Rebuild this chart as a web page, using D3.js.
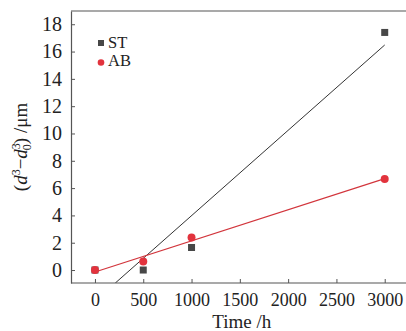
<!DOCTYPE html>
<html>
<head>
<meta charset="utf-8">
<script src="https://cdn.jsdelivr.net/npm/d3@7/dist/d3.min.js"></script>
<style>
  html, body { margin: 0; padding: 0; background: #fff; }
  svg { display: block; font-family: "Liberation Serif", "DejaVu Serif", serif; }
</style>
</head>
<body>
<svg id="chart" width="406" height="331"></svg>
<script>
// time (h)
var times = [0, 500, 1000, 3000];
// (d^3 - d0^3) /um
var stValues = [0, 0, 1.65, 17.4];
var abValues = [0, 0.62, 2.38, 6.67];
var xTicks = [0, 500, 1000, 1500, 2000, 2500, 3000];
var yTicks = [0, 2, 4, 6, 8, 10, 12, 14, 16, 18];

var width = 406, height = 331;
var margin = {left: 71, top: 11, right: 0, bottom: 48};

var svg = d3.select('#chart');

var x = d3.scaleLinear()
    .domain([-248, 3210])
    .range([margin.left, 405]);
var y = d3.scaleLinear()
    .domain([-0.95, 18.97])
    .range([height - margin.bottom, margin.top]);

// least squares fit
function fit(xs, ys) {
  var mx = d3.mean(xs), my = d3.mean(ys);
  var sxy = d3.sum(xs, (v, i) => (v - mx) * (ys[i] - my));
  var sxx = d3.sum(xs, v => (v - mx) * (v - mx));
  var b = sxy / sxx;
  return {b: b, a: my - b * mx};
}

var black = '#474747', red = '#e2333d';

// frame
svg.append('line')
   .attr('x1', margin.left).attr('x2', 406)
   .attr('y1', y.range()[1]).attr('y2', y.range()[1])
   .attr('stroke', '#555').attr('stroke-width', 1.2);

var xAxis = svg.append('g')
   .attr('transform', `translate(0,${y.range()[0]})`)
   .call(d3.axisBottom(x).tickValues(xTicks).tickFormat(d3.format('d'))
         .tickSizeInner(-4).tickSizeOuter(0).tickPadding(10));
var yAxis = svg.append('g')
   .attr('transform', `translate(${margin.left},0)`)
   .call(d3.axisLeft(y).tickValues(yTicks).tickFormat(d3.format('d'))
         .tickSizeInner(-4).tickSizeOuter(0).tickPadding(9));

[xAxis, yAxis].forEach(g => {
  g.select('.domain').attr('stroke', '#555').attr('stroke-width', 1.2);
  g.selectAll('.tick line').attr('stroke', '#555').attr('stroke-width', 1);
  g.selectAll('.tick text')
   .attr('fill', '#222')
   .attr('font-family', '"Liberation Serif", serif');
});
xAxis.select('.domain').attr('d', `M${margin.left},0H406`);
xAxis.selectAll('.tick text').attr('font-size', 18);
yAxis.selectAll('.tick text').attr('font-size', 20);

// fit lines
svg.append('clipPath').attr('id', 'plot')
   .append('rect')
   .attr('x', margin.left).attr('y', margin.top)
   .attr('width', 406 - margin.left).attr('height', y.range()[0] - margin.top);

var st = fit(times, stValues);
var stStart = (y.domain()[0] - st.a) / st.b;
svg.append('line')
   .attr('clip-path', 'url(#plot)')
   .attr('x1', x(stStart)).attr('y1', y(st.a + st.b * stStart))
   .attr('x2', x(3000)).attr('y2', y(st.a + st.b * 3000))
   .attr('stroke', '#333').attr('stroke-width', 1);

var ab = fit(times, abValues);
svg.append('line')
   .attr('x1', x(0)).attr('y1', y(ab.a))
   .attr('x2', x(3000)).attr('y2', y(ab.a + ab.b * 3000))
   .attr('stroke', '#d2353c').attr('stroke-width', 1.2);

// points
svg.append('g').selectAll('rect')
   .data(times)
   .join('rect')
   .attr('x', (d) => x(d) - 3.5)
   .attr('y', (d, i) => y(stValues[i]) - 3.5)
   .attr('width', 7).attr('height', 7)
   .attr('fill', black);

svg.append('g').selectAll('circle')
   .data(times)
   .join('circle')
   .attr('cx', d => x(d))
   .attr('cy', (d, i) => y(abValues[i]))
   .attr('r', 4)
   .attr('fill', red);

// legend
var legend = svg.append('g').attr('font-size', 16.5).attr('fill', '#222');
legend.append('rect').attr('x', 98).attr('y', 40).attr('width', 6).attr('height', 6).attr('fill', black);
legend.append('text').attr('x', 108).attr('y', 47.5).text('ST');
legend.append('circle').attr('cx', 101).attr('cy', 62.5).attr('r', 3.3).attr('fill', red);
legend.append('text').attr('x', 108).attr('y', 66).text('AB');

// axis titles
svg.append('text')
   .attr('x', (x(0) + x(3000)) / 2 + 2).attr('y', 328)
   .attr('text-anchor', 'middle')
   .attr('font-size', 19).attr('fill', '#222')
   .text('Time /h');

var yl = svg.append('text')
   .attr('transform', 'translate(27,147) rotate(-90)')
   .attr('text-anchor', 'middle')
   .attr('font-size', 19).attr('fill', '#222');
yl.append('tspan').text('(');
yl.append('tspan').style('font-style', 'italic').text('d');
yl.append('tspan').attr('dy', -7).attr('font-size', 12).text('3');
yl.append('tspan').attr('dy', 7).text('\u2212');
yl.append('tspan').style('font-style', 'italic').text('d');
yl.append('tspan').attr('dy', -7).attr('font-size', 12).text('3');
yl.append('tspan').attr('dx', -7).attr('dy', 11).attr('font-size', 12).text('0');
yl.append('tspan').attr('dy', -4).text(') /\u03bcm');
</script>
</body>
</html>
